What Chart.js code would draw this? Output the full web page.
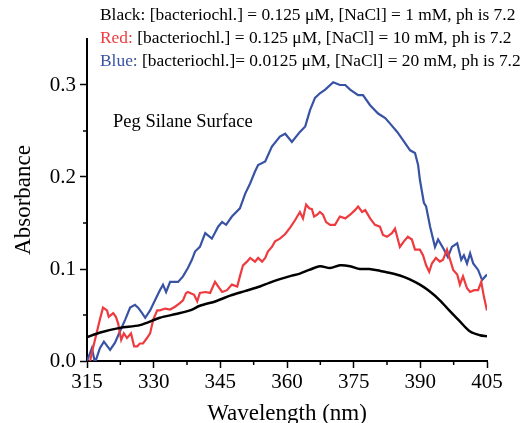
<!DOCTYPE html>
<html>
<head>
<meta charset="utf-8">
<script src="https://cdn.jsdelivr.net/npm/chart.js@4.4.1/dist/chart.umd.min.js"></script>
<style>
  body { margin: 0; background: #fff; overflow: hidden; }
  #wrap { position: relative; width: 522px; height: 423px; }
  .note { position: absolute; font-family: 'Liberation Serif', serif; color: #000; white-space: nowrap; }
  #legendText { left: 100px; top: 3px; font-size: 17.4px; line-height: 23px; }
  #surface { left: 113px; top: 111px; font-size: 18.5px; }
</style>
</head>
<body>
<div id="wrap">
  <canvas id="spectra" width="522" height="423"></canvas>
  <div class="note" id="legendText">
    <div>Black: [bacteriochl.] = 0.125 μM, [NaCl] = 1 mM, ph is 7.2</div>
    <div><span style="color:#ee3b3f">Red:</span> [bacteriochl.] = 0.125 μM, [NaCl] = 10 mM, ph is 7.2</div>
    <div><span style="color:#3953a4">Blue:</span> [bacteriochl.]= 0.0125 μM, [NaCl] = 20 mM, ph is 7.2</div>
  </div>
  <div class="note" id="surface">Peg Silane Surface</div>
</div>
<script>
// eixos
var xTicks = [315, 330, 345, 360, 375, 390, 405];
var yTicks = [0.0, 0.1, 0.2, 0.3];

// Black: 0.125 uM, 1 mM NaCl
var blackWl  = [315.0, 318.0, 322.4, 326.9, 331.4, 335.0, 338.2, 340.4, 344.0, 347.2, 350.5, 353.9, 356.0, 358.4, 360.5, 362.9, 365.0,
                367.4, 369.7, 371.9, 374.2, 376.4, 378.5, 380.9, 383.0, 385.4, 387.5, 389.9, 392.0, 394.4, 396.5, 398.9, 401.2, 403.4, 405.0];
var blackAbs = [0.026, 0.031, 0.036, 0.039, 0.047, 0.051, 0.055, 0.060, 0.065, 0.071, 0.076, 0.081, 0.085, 0.089, 0.092, 0.095, 0.099,
                0.103, 0.101, 0.104, 0.103, 0.100, 0.100, 0.098, 0.096, 0.093, 0.089, 0.083, 0.076, 0.066, 0.055, 0.043, 0.032, 0.028, 0.027];

// Red: 0.125 uM, 10 mM NaCl
var redWl  = [315.0, 315.7, 316.1, 316.8, 317.9, 318.6, 319.5, 319.9, 320.9, 321.5, 322.0, 322.7, 323.3, 324.0, 324.9, 325.6, 326.3, 326.9,
              327.6, 328.5, 329.2, 329.9, 330.8, 331.4, 332.6, 333.7, 334.8, 335.9, 336.6, 337.3, 337.7, 339.1, 339.8, 340.4, 341.6,
              342.7, 343.8, 344.5, 345.4, 346.5, 347.6, 348.8, 349.4, 350.1, 351.0, 351.7, 352.8, 353.5, 354.4, 355.1, 355.7, 356.6,
              357.3, 358.4, 359.6, 360.7, 361.8, 362.9, 363.6, 364.3, 365.0, 365.6, 366.1, 366.8, 367.4, 368.1, 368.8, 369.7, 370.8,
              371.9, 373.1, 374.2, 375.3, 376.0, 376.9, 377.6, 378.7, 379.8, 380.9, 381.6, 382.5, 383.6, 384.3, 385.4, 386.3, 387.2,
              388.1, 388.8, 389.9, 390.6, 391.3, 392.0, 392.6, 393.5, 394.4, 395.1, 396.0, 396.7, 397.4, 398.3, 398.9, 399.6, 400.5,
              401.2, 402.1, 403.0, 403.7, 404.3, 405.0];
var redAbs = [-0.010, 0.000, 0.009, 0.023, 0.045, 0.058, 0.055, 0.048, 0.052, 0.048, 0.041, 0.023, 0.030, 0.025, 0.030, 0.016, 0.016, 0.019,
              0.019, 0.025, 0.030, 0.045, 0.055, 0.055, 0.057, 0.056, 0.059, 0.063, 0.066, 0.074, 0.075, 0.072, 0.065, 0.074, 0.075,
              0.074, 0.086, 0.081, 0.075, 0.077, 0.083, 0.081, 0.092, 0.104, 0.108, 0.112, 0.108, 0.112, 0.108, 0.112, 0.119, 0.124,
              0.130, 0.133, 0.138, 0.145, 0.153, 0.162, 0.155, 0.170, 0.166, 0.165, 0.157, 0.159, 0.162, 0.159, 0.151, 0.148, 0.148,
              0.157, 0.155, 0.159, 0.164, 0.168, 0.162, 0.164, 0.155, 0.148, 0.146, 0.137, 0.135, 0.139, 0.144, 0.124, 0.130, 0.135,
              0.132, 0.121, 0.121, 0.115, 0.104, 0.097, 0.106, 0.112, 0.108, 0.110, 0.121, 0.110, 0.099, 0.094, 0.083, 0.092, 0.079,
              0.075, 0.077, 0.077, 0.086, 0.070, 0.055];

// Blue: 0.0125 uM, 20 mM NaCl
var blueWl  = [315.0, 316.1, 316.8, 317.9, 318.8, 320.2, 321.3, 322.4, 323.6, 324.7, 325.8, 326.5, 327.4, 328.1, 329.2, 330.3, 331.4,
               332.1, 332.8, 333.7, 335.5, 336.6, 337.7, 338.6, 339.3, 340.4, 341.6, 343.1, 344.5, 345.4, 346.3, 347.6, 349.4, 350.6,
               351.7, 352.8, 353.5, 355.1, 356.6, 358.4, 359.6, 361.1, 362.9, 364.1, 365.2, 366.3, 367.4, 368.6, 370.4, 371.9, 373.1,
               374.2, 376.0, 377.1, 378.7, 380.5, 382.1, 383.2, 384.8, 386.1, 387.7, 388.8, 389.5, 389.9, 390.8, 391.3, 392.2, 393.3,
               394.0, 395.1, 396.2, 397.1, 398.3, 399.2, 399.8, 400.5, 401.2, 401.9, 403.0, 403.9, 405.0];
var blueAbs = [0.000, 0.014, -0.002, 0.014, 0.021, 0.012, 0.020, 0.032, 0.045, 0.058, 0.061, 0.058, 0.052, 0.047, 0.055, 0.066, 0.077,
               0.083, 0.075, 0.086, 0.086, 0.092, 0.101, 0.110, 0.119, 0.124, 0.139, 0.133, 0.146, 0.151, 0.148, 0.157, 0.166, 0.182,
               0.193, 0.206, 0.213, 0.217, 0.233, 0.244, 0.247, 0.238, 0.249, 0.255, 0.273, 0.286, 0.291, 0.295, 0.303, 0.300, 0.300,
               0.295, 0.289, 0.289, 0.278, 0.269, 0.264, 0.258, 0.249, 0.240, 0.229, 0.226, 0.213, 0.197, 0.172, 0.168, 0.146, 0.124,
               0.132, 0.123, 0.113, 0.124, 0.128, 0.110, 0.115, 0.106, 0.117, 0.106, 0.099, 0.088, 0.094];

function toPoints(xs, ys) {
    return xs.map(function (x, i) { return { x: x, y: ys[i] }; });
}

// marcas menores entre as principais
var minorTicks = {
    id: 'minorTicks',
    afterDraw: function (chart) {
        var ctx = chart.ctx;
        var sx = chart.scales.x, sy = chart.scales.y;
        ctx.save();
        ctx.strokeStyle = '#000';
        ctx.lineWidth = 1.5;
        for (var i = 0; i < xTicks.length - 1; i++) {
            var px = sx.getPixelForValue((xTicks[i] + xTicks[i + 1]) / 2);
            ctx.beginPath(); ctx.moveTo(px, sx.top); ctx.lineTo(px, sx.top + 4); ctx.stroke();
        }
        for (var j = 0; j < yTicks.length - 1; j++) {
            var py = sy.getPixelForValue((yTicks[j] + yTicks[j + 1]) / 2);
            ctx.beginPath(); ctx.moveTo(sy.right, py); ctx.lineTo(sy.right - 4, py); ctx.stroke();
        }
        ctx.restore();
    }
};

var serif = 'Liberation Serif';

new Chart(document.getElementById('spectra').getContext('2d'), {
    type: 'line',
    data: {
        datasets: [
            { label: 'Black', data: toPoints(blackWl, blackAbs), borderColor: '#000000', borderWidth: 2.5, pointRadius: 0, tension: 0.3 },
            { label: 'Red', data: toPoints(redWl, redAbs), borderColor: '#ee3b3f', borderWidth: 2.2, pointRadius: 0, tension: 0 },
            { label: 'Blue', data: toPoints(blueWl, blueAbs), borderColor: '#3953a4', borderWidth: 2.2, pointRadius: 0, tension: 0 }
        ]
    },
    options: {
        responsive: false,
        animation: false,
        devicePixelRatio: 1,
        layout: { padding: { top: 39, right: 35, left: 0, bottom: 0 } },
        plugins: { legend: { display: false }, tooltip: { enabled: false } },
        scales: {
            x: {
                type: 'linear',
                min: 315, max: 405,
                afterBuildTicks: function (s) { s.ticks = xTicks.map(function (v) { return { value: v }; }); },
                afterFit: function (s) { s.height = 62; },
                ticks: { color: '#000', font: { family: serif, size: 21 }, padding: 2, maxRotation: 0 },
                grid: { drawOnChartArea: false, tickLength: 7, tickWidth: 1.5, tickColor: '#000' },
                border: { color: '#000', width: 2 },
                title: { display: true, text: 'Wavelength (nm)', color: '#000', font: { family: serif, size: 23 }, padding: { top: 0, bottom: -5 } }
            },
            y: {
                min: 0, max: 0.35,
                afterBuildTicks: function (s) { s.ticks = yTicks.map(function (v) { return { value: v }; }); },
                afterFit: function (s) { s.width = 87; },
                ticks: { color: '#000', font: { family: serif, size: 21 }, padding: 4,
                    callback: function (v) { return v.toFixed(1); } },
                grid: { drawOnChartArea: false, tickLength: 7, tickWidth: 1.5, tickColor: '#000' },
                border: { color: '#000', width: 2 },
                title: { display: true, text: 'Absorbance', color: '#000', font: { family: serif, size: 23 }, padding: { top: 10, bottom: 0 } }
            }
        }
    },
    plugins: [minorTicks]
});
</script>
</body>
</html>
